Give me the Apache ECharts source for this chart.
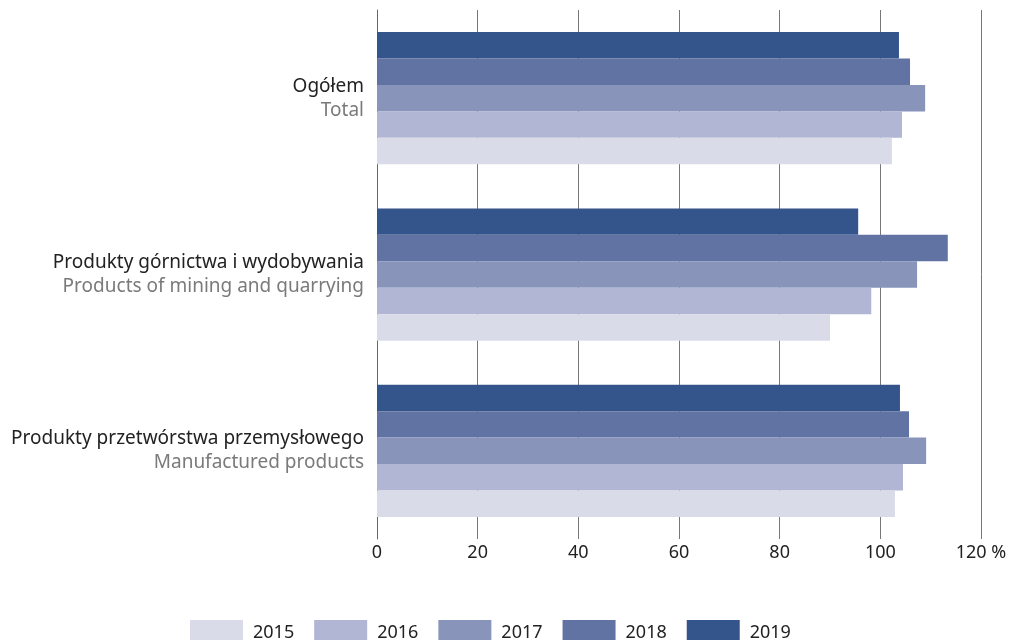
<!DOCTYPE html>
<html>
<head>
<meta charset="utf-8">
<script src="https://cdn.jsdelivr.net/npm/echarts@6/dist/echarts.min.js"></script>
<style>
  html, body { margin: 0; padding: 0; background: #fff; }
  #chart { width: 1019px; height: 640px; }
</style>
</head>
<body>
<div id="chart"></div>
<script>
// kategorie (PL / EN)
const categoriesPl = ["Ogółem", "Produkty górnictwa i wydobywania", "Produkty przetwórstwa przemysłowego"];
const categoriesEn = ["Total", "Products of mining and quarrying", "Manufactured products"];

// wartości w %
const years = ["2015", "2016", "2017", "2018", "2019"];
const values2015 = [102.3, 90.0, 102.9];
const values2016 = [104.3, 98.2, 104.5];
const values2017 = [108.9, 107.3, 109.1];
const values2018 = [105.9, 113.4, 105.7];
const values2019 = [103.7, 95.6, 103.9];

const colors = {
  "2015": "#d9dbe8",
  "2016": "#b0b6d3",
  "2017": "#8994bb",
  "2018": "#6173a3",
  "2019": "#34558c",
};

const seriesValues = {
  "2015": values2015,
  "2016": values2016,
  "2017": values2017,
  "2018": values2018,
  "2019": values2019,
};

const chart = echarts.init(document.getElementById("chart"));

// 2019 ma być na górze grupy, więc kolejność serii odwrócona
const series = years.slice().reverse().map((y) => ({
  name: y,
  type: "bar",
  data: seriesValues[y],
  barGap: "0%",
  barCategoryGap: "25%",
  itemStyle: { color: colors[y] },
  emphasis: { disabled: true },
}));

const option = {
  animation: false,
  textStyle: { fontFamily: "Noto Sans" },
  grid: {
    left: 377,
    right: 38,
    top: 10,
    bottom: 101,
    containLabel: false,
  },
  legend: {
    data: years,
    top: 615,
    left: 185,
    itemWidth: 53,
    itemHeight: 26,
    itemGap: 20,
    icon: "rect",
    selectedMode: false,
    textStyle: { fontSize: 18, color: "#222", padding: [2, 0, 0, 5] },
  },
  xAxis: {
    type: "value",
    min: 0,
    max: 120,
    interval: 20,
    axisLine: { show: false },
    axisTick: { show: false },
    splitLine: { show: true, lineStyle: { color: "#777", width: 1 } },
    axisLabel: {
      fontSize: 18,
      color: "#222",
      margin: 5,
      formatter: (v) => (v === 120 ? "120 %" : String(v)),
    },
  },
  yAxis: {
    type: "category",
    inverse: true,
    data: categoriesPl,
    axisLine: { show: true, lineStyle: { color: "#666", width: 1 } },
    axisTick: { show: false },
    axisLabel: {
      margin: 13,
      align: "right",
      lineHeight: 24,
      formatter: (v, i) => "{a|" + v + "}\n{b|" + categoriesEn[i] + "}",
      rich: {
        a: { fontSize: 19, color: "#222", lineHeight: 24, align: "right" },
        b: { fontSize: 19, color: "#7a7a7a", lineHeight: 24, align: "right" },
      },
    },
  },
  series: series,
};

chart.setOption(option);
</script>
</body>
</html>
